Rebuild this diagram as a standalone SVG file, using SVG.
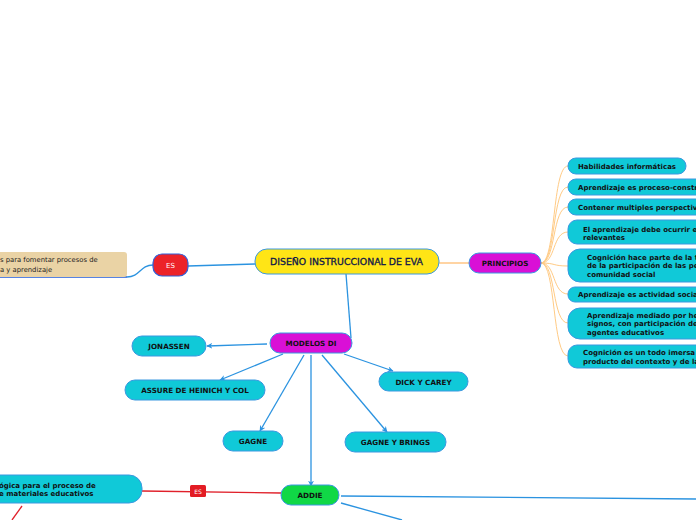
<svg xmlns="http://www.w3.org/2000/svg" width="696" height="520" viewBox="0 0 696 520">
<defs>
<marker id="arr" viewBox="0 0 10 10" refX="9" refY="5" markerWidth="6" markerHeight="6" orient="auto" markerUnits="userSpaceOnUse">
<path d="M0,0 L10,5 L0,10 L3,5 z" fill="#2b93e0"/>
</marker>
<style>
.c{fill:#10c9d8;stroke:#3a98e0;stroke-width:1}
.m{fill:#d910d6;stroke:#3a98e0;stroke-width:1}
.t{font-family:"DejaVu Sans",Verdana,sans-serif;font-weight:bold;font-size:7px;fill:#111}
.tc{font-family:"DejaVu Sans",Verdana,sans-serif;font-weight:bold;font-size:7.2px;fill:#111;text-anchor:middle}
.b{fill:none;stroke:#2b93e0;stroke-width:1.3}
.o{fill:none;stroke:#ffcb85;stroke-width:1}
.r{fill:none;stroke:#e0202a;stroke-width:1.3}
</style>
</defs>
<rect width="696" height="520" fill="#ffffff"/>
<g id="connectors">
<line class="b" x1="255" y1="264" x2="188" y2="266"/>
<path class="b" d="M153,265 C140,265 140,277 127,277"/>
<line x1="0" y1="277" x2="127" y2="277" stroke="#1f5ad8" stroke-width="1.5"/>
<line x1="439" y1="263" x2="469" y2="263" stroke="#ffb866" stroke-width="1.2"/>
<path class="o" d="M541,263 C556,263 552,166 568,166"/>
<path class="o" d="M541,263 C556,263 552,187 568,187"/>
<path class="o" d="M541,263 C556,263 552,207 568,207"/>
<path class="o" d="M541,263 C556,263 552,232 568,232"/>
<path class="o" d="M541,263 C556,263 552,266 568,266"/>
<path class="o" d="M541,263 C556,263 552,294 568,294"/>
<path class="o" d="M541,263 C556,263 552,323 568,323"/>
<path class="o" d="M541,263 C556,263 552,356 568,356"/>
<line class="b" x1="346" y1="274" x2="351" y2="338"/>
<line class="b" x1="267" y1="344" x2="207" y2="346" marker-end="url(#arr)"/>
<line class="b" x1="283" y1="354" x2="220" y2="380" marker-end="url(#arr)"/>
<line class="b" x1="344" y1="354" x2="393" y2="371" marker-end="url(#arr)"/>
<line class="b" x1="304" y1="355" x2="260" y2="431" marker-end="url(#arr)"/>
<line class="b" x1="322" y1="355" x2="387" y2="432" marker-end="url(#arr)"/>
<line class="b" x1="311" y1="355" x2="311" y2="486" marker-end="url(#arr)"/>
<line class="r" x1="142" y1="491" x2="281" y2="493"/>
<line class="r" x1="22" y1="506" x2="12" y2="520"/>
<line class="b" x1="341" y1="496" x2="696" y2="499"/>
<line class="b" x1="341" y1="503" x2="402" y2="520"/>
</g>
<g id="main">
<rect x="255" y="249" width="184" height="25" rx="12" fill="#ffe516" stroke="#3a98e0" stroke-width="1"/>
<text x="270" y="265" font-family="'DejaVu Sans',Tahoma,sans-serif" font-size="9px" fill="#10184a" stroke="#10184a" stroke-width="0.3" textLength="153" lengthAdjust="spacingAndGlyphs">DISEÑO INSTRUCCIONAL DE EVA</text>
</g>
<g id="es-left">
<rect x="153" y="254" width="35" height="22" rx="9" fill="#ec2228" stroke="#2f5fd8" stroke-width="1.2"/>
<text x="170.5" y="268" font-family="'DejaVu Sans',sans-serif" font-size="7px" fill="#ffffff" text-anchor="middle">ES</text>
</g>
<g id="beige">
<rect x="-10" y="252" width="137" height="25" rx="3" fill="#ead3a5"/>
<text x="0" y="262" font-family="'DejaVu Sans',Tahoma,sans-serif" font-size="6.8px" fill="#222">s para fomentar procesos de</text>
<text x="0" y="272" font-family="'DejaVu Sans',Tahoma,sans-serif" font-size="6.8px" fill="#222">a y aprendizaje</text>
</g>
<g id="principios">
<rect class="m" x="469" y="253" width="72" height="20" rx="10"/>
<text class="tc" x="505" y="266">PRINCIPIOS</text>
</g>
<g id="p1">
<rect class="c" x="568" y="158" width="118" height="16" rx="8"/>
<text class="t" x="578" y="169" textLength="98" lengthAdjust="spacingAndGlyphs">Habilidades informáticas</text>
</g>
<g id="p2">
<rect class="c" x="568" y="179" width="140" height="16" rx="8"/>
<text class="t" x="578" y="190">Aprendizaje es proceso-constr</text>
</g>
<g id="p3">
<rect class="c" x="568" y="199" width="140" height="16" rx="8"/>
<text class="t" x="578" y="210">Contener multiples perspectiv</text>
</g>
<g id="p4">
<rect class="c" x="568" y="220" width="140" height="24" rx="9"/>
<text class="t" x="583" y="232">El aprendizaje debe ocurrir e</text>
<text class="t" x="583" y="240">relevantes</text>
</g>
<g id="p5">
<rect class="c" x="568" y="249" width="140" height="33" rx="12"/>
<text class="t" x="587" y="260">Cognición hace parte de la t</text>
<text class="t" x="587" y="268">de la participación de las pe</text>
<text class="t" x="587" y="277">comunidad social</text>
</g>
<g id="p6">
<rect class="c" x="568" y="287" width="140" height="15" rx="7"/>
<text class="t" x="578" y="297">Aprendizaje es actividad social</text>
</g>
<g id="p7">
<rect class="c" x="568" y="308" width="140" height="31" rx="12"/>
<text class="t" x="587" y="318">Aprendizaje mediado por he</text>
<text class="t" x="587" y="326">signos, con participación de</text>
<text class="t" x="587" y="335">agentes educativos</text>
</g>
<g id="p8">
<rect class="c" x="568" y="345" width="140" height="23" rx="9"/>
<text class="t" x="583" y="355">Cognición es un todo imersa</text>
<text class="t" x="583" y="364">producto del contexto y de la</text>
</g>
<g id="modelos">
<rect class="m" x="270" y="333" width="82" height="20" rx="10"/>
<text class="tc" x="311" y="346">MODELOS DI</text>
</g>
<g id="jonassen">
<rect class="c" x="132" y="336" width="74" height="20" rx="10"/>
<text class="tc" x="169" y="349">JONASSEN</text>
</g>
<g id="assure">
<rect class="c" x="125" y="380" width="140" height="20" rx="10"/>
<text class="tc" x="195" y="393">ASSURE DE HEINICH Y COL</text>
</g>
<g id="dick">
<rect class="c" x="379" y="372" width="89" height="19" rx="9.5"/>
<text class="tc" x="423.5" y="384.5">DICK Y CAREY</text>
</g>
<g id="gagne">
<rect class="c" x="223" y="431" width="60" height="20" rx="10"/>
<text class="tc" x="253" y="444">GAGNE</text>
</g>
<g id="gagnebrings">
<rect class="c" x="345" y="432" width="101" height="20" rx="10"/>
<text class="tc" x="395.5" y="445">GAGNE Y BRINGS</text>
</g>
<g id="addie">
<rect x="281" y="485" width="58" height="20" rx="10" fill="#10d846" stroke="#3a98e0" stroke-width="1"/>
<text class="tc" x="310" y="498">ADDIE</text>
</g>
<g id="es-red">
<rect x="190" y="485" width="16" height="12" rx="1.5" fill="#e31c24"/>
<text x="198" y="493.5" font-family="'DejaVu Sans',sans-serif" font-size="6px" fill="#ffffff" text-anchor="middle">ES</text>
</g>
<g id="left-node">
<rect class="c" x="-20" y="475" width="162" height="28" rx="13"/>
<text class="t" x="-1" y="488">ógica para el proceso de</text>
<text class="t" x="-1" y="496">e materiales educativos</text>
</g>
</svg>
